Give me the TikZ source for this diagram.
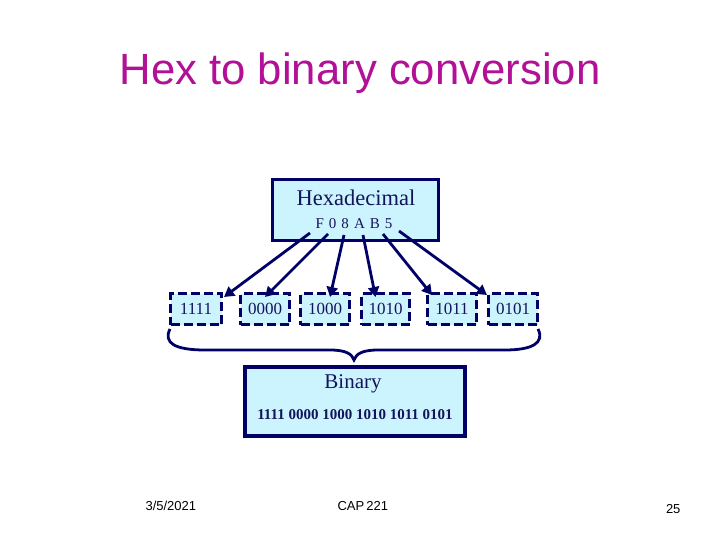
\documentclass[tikz,border=0pt]{standalone}
\usepackage{fontspec}
\setmainfont{Liberation Serif}
\newfontfamily\arialf{Liberation Sans}
\usetikzlibrary{arrows.meta}
\definecolor{navy}{RGB}{0,0,102}
\definecolor{boxfill}{RGB}{204,244,255}
\definecolor{titlemag}{RGB}{178,16,150}
\definecolor{txtnavy}{RGB}{20,20,90}
\tikzset{
  bigbox/.style={draw=navy, fill=boxfill, line width=3.5pt, inner sep=0pt},
  bitbox/.style={draw=navy, fill=boxfill, line width=3pt, dash pattern=on 9pt off 4pt, minimum height=31pt, inner sep=0pt, text=txtnavy, font=\fontsize{17}{17}\selectfont},
  conv/.style={draw=navy, line width=2.8pt, -{Triangle[length=10pt,width=11pt]}},
  bracel/.style={draw=navy, line width=2.8pt},
}
\begin{document}
\begin{tikzpicture}[x=1pt,y=-1pt]
\useasboundingbox[fill=white] (0,0) rectangle (720,540);
\node[anchor=base, text=titlemag, font=\arialf\fontsize{43.7}{43.7}\selectfont] (title) at (360,85) {Hex to binary conversion};
% hex box
\node[bigbox, minimum width=166pt, minimum height=61pt] (hex) at (355.5,210) {};
\node[anchor=base, text=txtnavy, font=\fontsize{22.5}{22.5}\selectfont] (hexlbl) at (356,206) {Hexadecimal};
\node[anchor=base, text=txtnavy, font=\fontsize{15}{15}\selectfont] (hexval) at (354,229) {F\,\,0\,\,8\,\,A\,\,B\,\,5};
% bit boxes
\node[bitbox, minimum width=51pt] (b1) at (196,309) {1111};
\node[bitbox, minimum width=49pt] (b2) at (265,309) {0000};
\node[bitbox, minimum width=49pt] (b3) at (325,309) {1000};
\node[bitbox, minimum width=48pt] (b4) at (385.5,309) {1010};
\node[bitbox, minimum width=49pt] (b5) at (452,309) {1011};
\node[bitbox, minimum width=49pt] (b6) at (513,309) {0101};
% arrow starts
\coordinate (s1) at (310,233);
\coordinate (s2) at (328,234);
\coordinate (s3) at (344,235);
\coordinate (s4) at (363,235);
\coordinate (s5) at (383,234);
\coordinate (s6) at (399,231);
\draw[conv] (s1) -- ([xshift=1pt,yshift=-5pt]b1.north east);
\draw[conv] (s2) -- ([yshift=-5pt]b2.north);
\draw[conv] (s3) -- ([xshift=5pt,yshift=-5pt]b3.north);
\draw[conv] (s4) -- ([xshift=-10pt,yshift=-5pt]b4.north);
\draw[conv] (s5) -- ([xshift=6pt,yshift=-3pt]b5.north west);
\draw[conv] (s6) -- ([xshift=0pt,yshift=-3pt]b6.north west);
% brace
\coordinate (bl) at (170,329);
\coordinate (br) at (538,329);
\coordinate (bt) at (354,360);
\draw[bracel] (bl) .. controls (163,343) and (175,350) .. (205,350) -- (330,350) .. controls (346,350) and (352,354) .. (bt) .. controls (356,354) and (362,350) .. (378,350) -- (505,350) .. controls (532,350) and (545,343) .. (br);
% binary box
\node[bigbox, minimum width=220pt, minimum height=69pt] (bin) at (355,401.5) {};
\node[anchor=base, text=txtnavy, font=\fontsize{21}{21}\selectfont] (binlbl) at (353,388) {Binary};
\node[anchor=base, text=txtnavy, font=\bfseries\fontsize{15}{15}\selectfont] (binval) at (355,419) {1111 0000 1000 1010 1011 0101};
% footer
\node[anchor=base west, font=\arialf\fontsize{13}{13}\selectfont] (date) at (142,510) {3/5/2021};
\node[anchor=base west, font=\arialf\fontsize{13}{13}\selectfont] (course) at (334,510) {CAP\,221};
\node[anchor=base east, font=\arialf\fontsize{13}{13}\selectfont] (page) at (684,513) {25};
\end{tikzpicture}
\end{document}
